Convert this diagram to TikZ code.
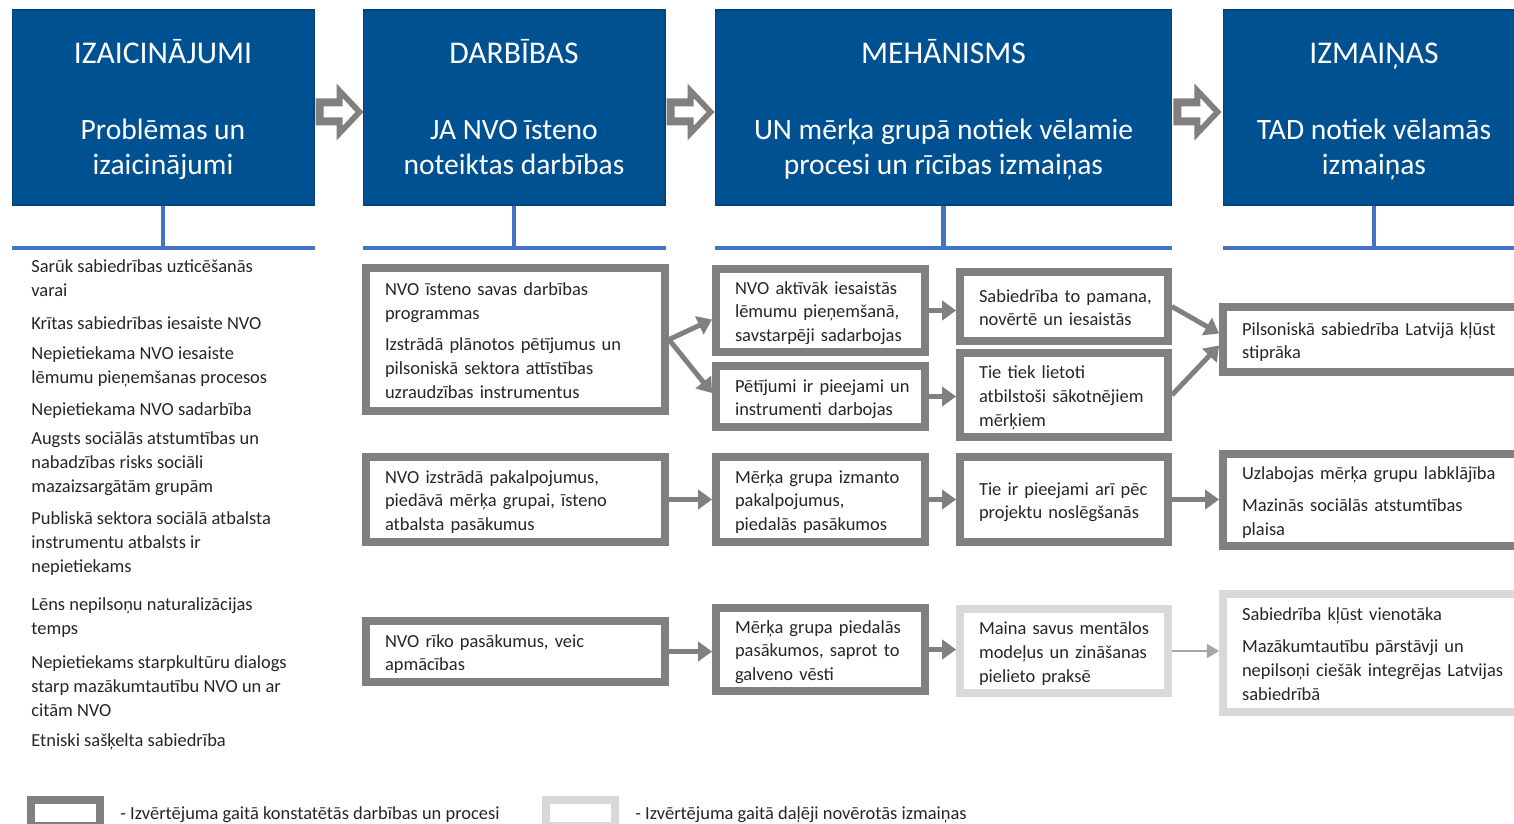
\documentclass[tikz,border=0pt]{standalone}
\usepackage{fontspec}
\setmainfont{Carlito}
\usetikzlibrary{arrows.meta}

\definecolor{hdrblue}{RGB}{0,81,146}
\definecolor{barblue}{RGB}{68,114,196}
\definecolor{boxgray}{RGB}{128,128,128}
\definecolor{palegray}{RGB}{217,217,217}
\definecolor{thingray}{RGB}{166,166,166}
\definecolor{txt}{RGB}{38,38,38}

% header lines: title, gap, two subtitle lines
\newcommand{\hdrtext}[3]{{\fontsize{18}{20}\selectfont\rule{0pt}{17.1pt}#1}\\[23.6pt]#2\\#3\rule[-4pt]{0pt}{4pt}}

\tikzset{
  hdr/.style={fill=hdrblue, draw=hdrblue!85!black, line width=.6pt, text=white,
    align=center, minimum height=3.9cm, font=\fontsize{16.8}{20}\selectfont},
  bar/.style={barblue, line width=2.3pt},
  boxframe/.style={draw=boxgray, line width=4.5pt, fill=white},
  pbox/.style={boxframe, text=txt, align=left, inner xsep=.1cm,
    font=\fontsize{10.5}{13.6}\selectfont,
    execute at begin node={\leftskip=.28cm\rule{0pt}{11pt}},
    execute at end node={\rule[-2.5pt]{0pt}{2.5pt}}},
  lbox/.style={pbox, draw=palegray},
  item/.style={anchor=west, align=left, text=txt, inner sep=0pt,
    font=\fontsize{10.5}{13.6}\selectfont},
  arr/.style={boxgray, line width=2.8pt, -{Triangle[length=8pt,width=11pt]}},
  thinarr/.style={thingray, line width=1.2pt, -{Triangle[length=7pt,width=8pt]}}
}

\begin{document}
\begin{tikzpicture}[x=.02cm,y=-.02cm]
  \clip (0,0) rectangle (1514,824);
  \fill[white] (0,0) rectangle (1514,824);

  % headers
  \node[hdr, minimum width=6.04cm] (h1) at (163,107.5)
    {\hdrtext{IZAICINĀJUMI}{Problēmas un}{izaicinājumi}};
  \node[hdr, minimum width=6.04cm] (h2) at (514,107.5)
    {\hdrtext{DARBĪBAS}{JA NVO īsteno}{noteiktas darbības}};
  \node[hdr, minimum width=9.14cm] (h3) at (943.5,107.5)
    {\hdrtext{MEHĀNISMS}{UN mērķa grupā notiek vēlamie}{procesi un rīcības izmaiņas}};
  \node[hdr, minimum width=6.04cm] (h4) at (1374,107.5)
    {\hdrtext{IZMAIŅAS}{TAD notiek vēlamās}{izmaiņas}};

  \foreach \h in {h1,h2,h3,h4} {
    \coordinate (\h-bar) at (\h.south |- 0,248);
    \draw[bar] (\h.south) -- (\h-bar);
    \draw[bar] (\h.south west |- \h-bar) -- (\h.south east |- \h-bar);
  }

  % hollow arrows between the headers
  \foreach \h in {h1,h2,h3} {
    \begin{scope}[shift={(\h.east)}, yshift=-.09cm]
      \fill[boxgray, even odd rule]
        (1,-13.5) -- (22,-13.5) -- (22,-28.5) -- (49,0) -- (22,28.5)
          -- (22,13.5) -- (1,13.5) -- cycle
        (9,-5.5) -- (28,-5.5) -- (28,-14) -- (41,0) -- (28,14)
          -- (28,5.5) -- (9,5.5) -- cycle;
    \end{scope}
  }

  % left column
  \node[item] (p1) at (31,278.5) {Sarūk sabiedrības uzticēšanās\\varai};
  \node[item] (p2) at (31,323) {Krītas sabiedrības iesaiste NVO};
  \node[item] (p3) at (31,367) {Nepietiekama NVO iesaiste\\lēmumu pieņemšanas procesos};
  \node[item] (p4) at (31,411) {Nepietiekama NVO sadarbība};
  \node[item] (p5) at (31,464)
    {Augsts sociālās atstumtības un\\nabadzības risks sociāli\\mazaizsargātām grupām};
  \node[item] (p6) at (31,543.5)
    {Publiskā sektora sociālā atbalsta\\instrumentu atbalsts ir\\nepietiekams};
  \node[item] (p7) at (31,617.5) {Lēns nepilsoņu naturalizācijas\\temps};
  \node[item] (p8) at (31,686)
    {Nepietiekams starpkultūru dialogs\\starp mazākumtautību NVO un ar\\citām NVO};
  \node[item] (p9) at (31,742) {Etniski sašķelta sabiedrība};

  % activities
  \node[pbox, minimum width=5.98cm, minimum height=2.86cm, text width=5.78cm] (a1)
    at (515.5,339.5) {NVO īsteno savas darbības\\programmas\\[4.5pt]Izstrādā plānotos
    pētījumus un\\pilsoniskā sektora attīstības\\uzraudzības instrumentus};
  \node[pbox, minimum width=5.98cm, minimum height=1.7cm, text width=5.78cm] (a2)
    at (515.5,499.5) {NVO izstrādā pakalpojumus,\\piedāvā mērķa grupai, īsteno\\atbalsta
    pasākumus};
  \node[pbox, minimum width=5.98cm, minimum height=1.22cm, text width=5.78cm] (a3)
    at (515.5,651.5) {NVO rīko pasākumus, veic\\apmācības};

  % mechanism, first step
  \node[pbox, minimum width=4.18cm, minimum height=1.62cm, text width=3.98cm] (b1)
    at (820.5,310.5) {NVO aktīvāk iesaistās\\lēmumu pieņemšanā,\\savstarpēji sadarbojas};
  \node[pbox, minimum width=4.18cm, minimum height=1.22cm, text width=3.98cm] (b2)
    at (820.5,396.5) {Pētījumi ir pieejami un\\instrumenti darbojas};
  \node[pbox, minimum width=4.18cm, minimum height=1.7cm, text width=3.98cm] (b3)
    at (820.5,499.5) {Mērķa grupa izmanto\\pakalpojumus,\\piedalās pasākumos};
  \node[pbox, minimum width=4.18cm, minimum height=1.54cm, text width=3.98cm] (b4)
    at (820.5,649.5) {Mērķa grupa piedalās\\pasākumos, saprot to\\galveno vēsti};

  % mechanism, second step
  \node[pbox, minimum width=4.16cm, minimum height=1.38cm, text width=3.96cm] (c1)
    at (1064,306.5) {Sabiedrība to pamana,\\novērtē un iesaistās};
  \node[pbox, minimum width=4.16cm, minimum height=1.6cm, text width=3.96cm] (c2)
    at (1064,395) {Tie tiek lietoti\\atbilstoši sākotnējiem\\mērķiem};
  \node[pbox, minimum width=4.16cm, minimum height=1.7cm, text width=3.96cm] (c3)
    at (1064,499.5) {Tie ir pieejami arī pēc\\projektu noslēgšanās};
  \node[lbox, minimum width=4.16cm, minimum height=1.64cm, text width=3.96cm] (c4)
    at (1064,651) {Maina savus mentālos\\modeļus un zināšanas\\pielieto praksē};

  % changes
  \node[pbox, minimum width=6.4cm, minimum height=1.3cm, text width=6.2cm] (d1)
    at (1383,339.5) {Pilsoniskā sabiedrība Latvijā kļūst\\stiprāka};
  \node[pbox, minimum width=6.4cm, minimum height=1.68cm, text width=6.2cm] (d2)
    at (1383,500) {Uzlabojas mērķa grupu labklājība\\[4.5pt]Mazinās sociālās
    atstumtības\\plaisa};
  \node[lbox, minimum width=6.4cm, minimum height=2.36cm, text width=6.2cm] (d3)
    at (1383,653) {Sabiedrība kļūst vienotāka\\[4.5pt]Mazākumtautību pārstāvji
    un\\nepilsoņi ciešāk integrējas Latvijas\\sabiedrībā};

  % arrows
  \draw[arr] (a1.east) -- ([yshift=-.18cm]b1.west);
  \draw[arr] (a1.east) -- ([yshift=.07cm]b2.west);
  \draw[arr] (b1) -- (b1 -| c1.west);
  \draw[arr] (b2) -- (b2 -| c2.west);
  \draw[arr] (c1.east) -- ([yshift=.12cm]d1.west);
  \draw[arr] (c2.east) -- ([yshift=-.12cm]d1.west);
  \draw[arr] (a2) -- (a2 -| b3.west);
  \draw[arr] (b3) -- (b3 -| c3.west);
  \draw[arr] (c3) -- (c3 -| d2.west);
  \draw[arr] (a3) -- (a3 -| b4.west);
  \draw[arr] (b4) -- (b4 -| c4.west);
  \draw[thinarr] (c4) -- (c4 -| d3.west);

  % legend
  \node[boxframe, minimum width=1.38cm, minimum height=.52cm, inner sep=0pt] (lg1)
    at (65.5,813) {};
  \node[item] (lg1-txt) at (120,815)
    {- Izvērtējuma gaitā konstatētās darbības un procesi};
  \node[boxframe, draw=palegray, minimum width=1.38cm, minimum height=.52cm,
    inner sep=0pt] (lg2) at (580.5,813) {};
  \node[item] (lg2-txt) at (635,815) {- Izvērtējuma gaitā daļēji novērotās izmaiņas};
\end{tikzpicture}
\end{document}
